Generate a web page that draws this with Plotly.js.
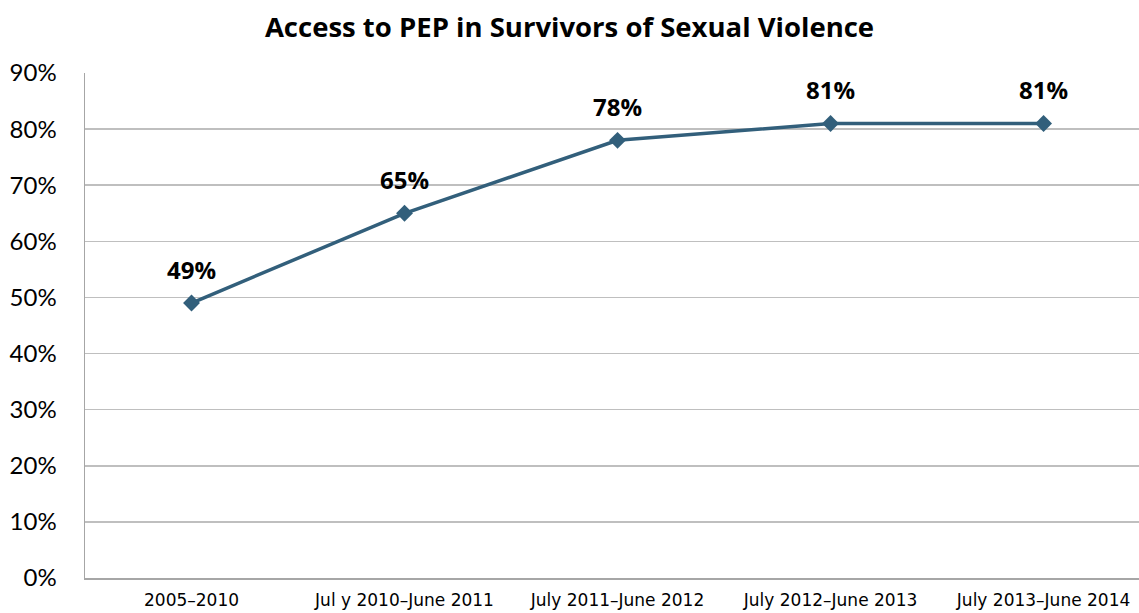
<!DOCTYPE html>
<html>
<head>
<meta charset="utf-8">
<script src="https://cdn.plot.ly/plotly-3.0.1.min.js"></script>
<style>html,body{margin:0;padding:0;background:#fff;}#chart{width:1139px;height:613px;}</style>
</head>
<body>
<div id="chart"></div>
<script>
const categories = ["2005–2010", "Jul y 2010–June 2011", "July 2011–June 2012", "July 2012–June 2013", "July 2013–June 2014"];
const pepAccess = [0.49, 0.65, 0.78, 0.81, 0.81];
const dataLabels = ["49%", "65%", "78%", "81%", "81%"];
const yTickValues = [0, 0.1, 0.2, 0.3, 0.4, 0.5, 0.6, 0.7, 0.8, 0.9];
const yTickLabels = ["0%", "10%", "20%", "30%", "40%", "50%", "60%", "70%", "80%", "90%"];

const idx = categories.map((c, i) => i);

const trace = {
  x: idx,
  y: pepAccess,
  type: 'scatter',
  mode: 'lines+markers',
  line: {color: '#325f7b', width: 3.5},
  marker: {symbol: 'diamond', size: 13, color: '#325f7b'},
  hoverinfo: 'skip'
};

const annotations = idx.map((i) => ({
  x: i, y: pepAccess[i], xref: 'x', yref: 'y',
  text: '<b>' + dataLabels[i] + '</b>',
  showarrow: false, yshift: 34,
  font: {family: 'Open Sans, sans-serif', size: 24, color: '#000'}
}));

const layout = {
  width: 1139, height: 613,
  margin: {l: 85, r: 0, t: 73, b: 35},
  paper_bgcolor: '#fff', plot_bgcolor: '#fff',
  showlegend: false,
  title: {
    text: '<b>Access to PEP in Survivors of Sexual Violence</b>',
    x: 0.5, xanchor: 'center', y: 0.955, yanchor: 'middle',
    font: {family: 'Open Sans, sans-serif', size: 27.5, color: '#000'}
  },
  xaxis: {
    range: [-0.5, 4.448],
    tickvals: idx, ticktext: categories,
    showgrid: false, zeroline: false,
    showline: true, linecolor: '#a6a6a6', linewidth: 1.5,
    ticks: '', ticklabelstandoff: 6,
    tickfont: {family: 'DejaVu Sans, sans-serif', size: 17, color: '#000'},
    fixedrange: true
  },
  yaxis: {
    range: [0, 0.9],
    tickvals: yTickValues, ticktext: yTickLabels,
    showgrid: true, gridcolor: '#bfbfbf', gridwidth: 1.5,
    zeroline: false,
    showline: true, linecolor: '#a6a6a6', linewidth: 1.5,
    ticks: '', ticklabelstandoff: 22,
    tickfont: {family: 'Lato, sans-serif', size: 24, color: '#000'},
    fixedrange: true
  },
  annotations: annotations
};

Plotly.newPlot('chart', [trace], layout, {displayModeBar: false, staticPlot: true});
</script>
</body>
</html>
